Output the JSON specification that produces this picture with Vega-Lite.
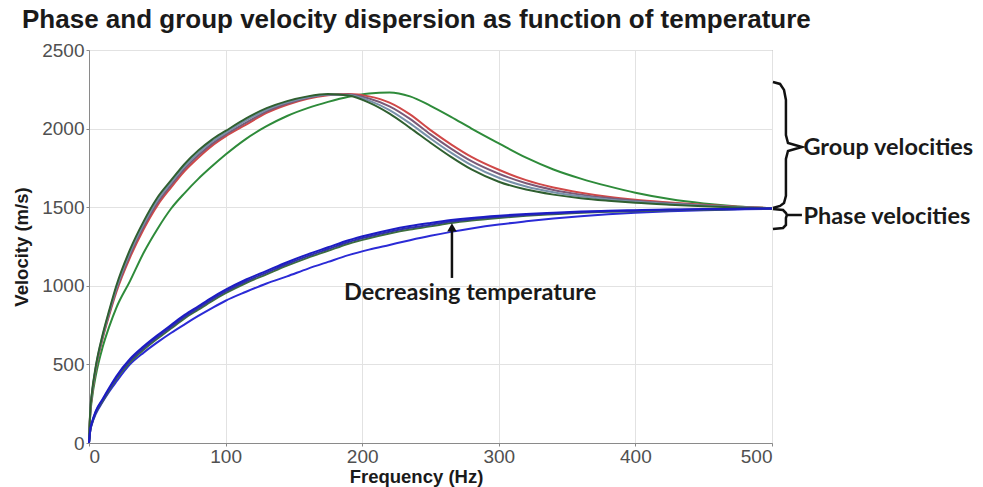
{
  "$schema": "https://vega.github.io/schema/vega-lite/v6.json",
  "width": 683,
  "height": 393,
  "autosize": "none",
  "padding": {"left": 89, "top": 50, "right": 211, "bottom": 44},
  "background": "white",
  "title": {"text": "Phase and group velocity dispersion as function of temperature", "anchor": "start", "frame": "group", "dx": -67, "offset": 8, "fontSize": 26, "font": "Liberation Sans", "fontWeight": "bold", "color": "#1a1a1a"},
  "datasets": {
    "curves": [
      {"c":"O","f":0,"v":0},{"c":"O","f":1,"v":190},{"c":"O","f":2,"v":270},{"c":"O","f":5,"v":430},{"c":"O","f":10,"v":610},{"c":"O","f":15,"v":745},{"c":"O","f":20,"v":860},{"c":"O","f":30,"v":1030},{"c":"O","f":40,"v":1210},{"c":"O","f":50,"v":1360},{"c":"O","f":60,"v":1490},{"c":"O","f":70,"v":1590},{"c":"O","f":80,"v":1680},{"c":"O","f":90,"v":1760},{"c":"O","f":100,"v":1835},{"c":"O","f":115,"v":1935},{"c":"O","f":130,"v":2015},{"c":"O","f":145,"v":2080},{"c":"O","f":160,"v":2130},{"c":"O","f":175,"v":2170},{"c":"O","f":190,"v":2203},{"c":"O","f":205,"v":2224},{"c":"O","f":220,"v":2230},{"c":"O","f":235,"v":2205},{"c":"O","f":250,"v":2145},{"c":"O","f":265,"v":2075},{"c":"O","f":280,"v":2000},{"c":"O","f":300,"v":1906},{"c":"O","f":320,"v":1815},{"c":"O","f":340,"v":1740},{"c":"O","f":360,"v":1682},{"c":"O","f":380,"v":1634},{"c":"O","f":400,"v":1592},{"c":"O","f":425,"v":1552},{"c":"O","f":450,"v":1524},{"c":"O","f":475,"v":1505},{"c":"O","f":500,"v":1494},
      {"c":"R","f":0,"v":0},{"c":"R","f":1,"v":205},{"c":"R","f":2,"v":290},{"c":"R","f":5,"v":470},{"c":"R","f":10,"v":665},{"c":"R","f":15,"v":820},{"c":"R","f":20,"v":960},{"c":"R","f":30,"v":1180},{"c":"R","f":40,"v":1360},{"c":"R","f":50,"v":1510},{"c":"R","f":60,"v":1625},{"c":"R","f":70,"v":1730},{"c":"R","f":80,"v":1815},{"c":"R","f":90,"v":1890},{"c":"R","f":100,"v":1950},{"c":"R","f":115,"v":2025},{"c":"R","f":130,"v":2100},{"c":"R","f":145,"v":2152},{"c":"R","f":160,"v":2190},{"c":"R","f":175,"v":2212},{"c":"R","f":190,"v":2220},{"c":"R","f":205,"v":2205},{"c":"R","f":220,"v":2165},{"c":"R","f":235,"v":2090},{"c":"R","f":250,"v":1990},{"c":"R","f":265,"v":1900},{"c":"R","f":280,"v":1820},{"c":"R","f":300,"v":1738},{"c":"R","f":320,"v":1672},{"c":"R","f":340,"v":1625},{"c":"R","f":360,"v":1592},{"c":"R","f":380,"v":1566},{"c":"R","f":400,"v":1547},{"c":"R","f":425,"v":1530},{"c":"R","f":450,"v":1515},{"c":"R","f":475,"v":1503},{"c":"R","f":500,"v":1494},
      {"c":"G2","f":0,"v":0},{"c":"G2","f":1,"v":210},{"c":"G2","f":2,"v":297},{"c":"G2","f":5,"v":477},{"c":"G2","f":10,"v":673},{"c":"G2","f":15,"v":830},{"c":"G2","f":20,"v":973},{"c":"G2","f":30,"v":1197},{"c":"G2","f":40,"v":1377},{"c":"G2","f":50,"v":1527},{"c":"G2","f":60,"v":1640},{"c":"G2","f":70,"v":1745},{"c":"G2","f":80,"v":1830},{"c":"G2","f":90,"v":1903},{"c":"G2","f":100,"v":1962},{"c":"G2","f":115,"v":2038},{"c":"G2","f":130,"v":2110},{"c":"G2","f":145,"v":2160},{"c":"G2","f":160,"v":2195},{"c":"G2","f":175,"v":2215},{"c":"G2","f":190,"v":2217},{"c":"G2","f":205,"v":2192},{"c":"G2","f":220,"v":2142},{"c":"G2","f":235,"v":2062},{"c":"G2","f":250,"v":1963},{"c":"G2","f":265,"v":1873},{"c":"G2","f":280,"v":1793},{"c":"G2","f":300,"v":1713},{"c":"G2","f":320,"v":1652},{"c":"G2","f":340,"v":1610},{"c":"G2","f":360,"v":1580},{"c":"G2","f":380,"v":1558},{"c":"G2","f":400,"v":1541},{"c":"G2","f":425,"v":1525},{"c":"G2","f":450,"v":1512},{"c":"G2","f":475,"v":1501},{"c":"G2","f":500,"v":1493},
      {"c":"G1","f":0,"v":0},{"c":"G1","f":1,"v":215},{"c":"G1","f":2,"v":303},{"c":"G1","f":5,"v":483},{"c":"G1","f":10,"v":682},{"c":"G1","f":15,"v":840},{"c":"G1","f":20,"v":987},{"c":"G1","f":30,"v":1213},{"c":"G1","f":40,"v":1393},{"c":"G1","f":50,"v":1543},{"c":"G1","f":60,"v":1655},{"c":"G1","f":70,"v":1760},{"c":"G1","f":80,"v":1845},{"c":"G1","f":90,"v":1917},{"c":"G1","f":100,"v":1973},{"c":"G1","f":115,"v":2052},{"c":"G1","f":130,"v":2120},{"c":"G1","f":145,"v":2167},{"c":"G1","f":160,"v":2200},{"c":"G1","f":175,"v":2217},{"c":"G1","f":190,"v":2213},{"c":"G1","f":205,"v":2178},{"c":"G1","f":220,"v":2118},{"c":"G1","f":235,"v":2033},{"c":"G1","f":250,"v":1937},{"c":"G1","f":265,"v":1847},{"c":"G1","f":280,"v":1767},{"c":"G1","f":300,"v":1687},{"c":"G1","f":320,"v":1632},{"c":"G1","f":340,"v":1595},{"c":"G1","f":360,"v":1569},{"c":"G1","f":380,"v":1549},{"c":"G1","f":400,"v":1534},{"c":"G1","f":425,"v":1521},{"c":"G1","f":450,"v":1509},{"c":"G1","f":475,"v":1500},{"c":"G1","f":500,"v":1493},
      {"c":"G0","f":0,"v":0},{"c":"G0","f":1,"v":220},{"c":"G0","f":2,"v":310},{"c":"G0","f":5,"v":490},{"c":"G0","f":10,"v":690},{"c":"G0","f":15,"v":850},{"c":"G0","f":20,"v":1000},{"c":"G0","f":30,"v":1230},{"c":"G0","f":40,"v":1410},{"c":"G0","f":50,"v":1560},{"c":"G0","f":60,"v":1670},{"c":"G0","f":70,"v":1775},{"c":"G0","f":80,"v":1860},{"c":"G0","f":90,"v":1930},{"c":"G0","f":100,"v":1985},{"c":"G0","f":115,"v":2065},{"c":"G0","f":130,"v":2130},{"c":"G0","f":145,"v":2175},{"c":"G0","f":160,"v":2205},{"c":"G0","f":175,"v":2220},{"c":"G0","f":190,"v":2210},{"c":"G0","f":205,"v":2165},{"c":"G0","f":220,"v":2095},{"c":"G0","f":235,"v":2005},{"c":"G0","f":250,"v":1910},{"c":"G0","f":265,"v":1820},{"c":"G0","f":280,"v":1740},{"c":"G0","f":300,"v":1662},{"c":"G0","f":320,"v":1612},{"c":"G0","f":340,"v":1580},{"c":"G0","f":360,"v":1557},{"c":"G0","f":380,"v":1541},{"c":"G0","f":400,"v":1528},{"c":"G0","f":425,"v":1516},{"c":"G0","f":450,"v":1506},{"c":"G0","f":475,"v":1498},{"c":"G0","f":500,"v":1492},
      {"c":"PL","f":0,"v":0},{"c":"PL","f":1,"v":82},{"c":"PL","f":2,"v":116},{"c":"PL","f":5,"v":185},{"c":"PL","f":10,"v":262},{"c":"PL","f":15,"v":330},{"c":"PL","f":20,"v":390},{"c":"PL","f":30,"v":500},{"c":"PL","f":40,"v":575},{"c":"PL","f":50,"v":640},{"c":"PL","f":60,"v":700},{"c":"PL","f":70,"v":755},{"c":"PL","f":80,"v":808},{"c":"PL","f":90,"v":858},{"c":"PL","f":100,"v":905},{"c":"PL","f":115,"v":962},{"c":"PL","f":130,"v":1015},{"c":"PL","f":145,"v":1060},{"c":"PL","f":160,"v":1108},{"c":"PL","f":175,"v":1152},{"c":"PL","f":190,"v":1195},{"c":"PL","f":205,"v":1230},{"c":"PL","f":220,"v":1260},{"c":"PL","f":235,"v":1290},{"c":"PL","f":250,"v":1318},{"c":"PL","f":265,"v":1343},{"c":"PL","f":280,"v":1365},{"c":"PL","f":300,"v":1390},{"c":"PL","f":320,"v":1410},{"c":"PL","f":340,"v":1428},{"c":"PL","f":360,"v":1443},{"c":"PL","f":380,"v":1455},{"c":"PL","f":400,"v":1465},{"c":"PL","f":425,"v":1474},{"c":"PL","f":450,"v":1481},{"c":"PL","f":475,"v":1486},{"c":"PL","f":500,"v":1490},
      {"c":"P2","f":0,"v":0},{"c":"P2","f":1,"v":84},{"c":"P2","f":2,"v":119},{"c":"P2","f":5,"v":195},{"c":"P2","f":10,"v":266},{"c":"P2","f":15,"v":339},{"c":"P2","f":20,"v":407},{"c":"P2","f":30,"v":513},{"c":"P2","f":40,"v":593},{"c":"P2","f":50,"v":663},{"c":"P2","f":60,"v":728},{"c":"P2","f":70,"v":793},{"c":"P2","f":80,"v":848},{"c":"P2","f":90,"v":903},{"c":"P2","f":100,"v":953},{"c":"P2","f":115,"v":1018},{"c":"P2","f":130,"v":1073},{"c":"P2","f":145,"v":1128},{"c":"P2","f":160,"v":1178},{"c":"P2","f":175,"v":1223},{"c":"P2","f":190,"v":1268},{"c":"P2","f":205,"v":1303},{"c":"P2","f":220,"v":1333},{"c":"P2","f":235,"v":1358},{"c":"P2","f":250,"v":1378},{"c":"P2","f":265,"v":1400},{"c":"P2","f":280,"v":1416},{"c":"P2","f":300,"v":1432},{"c":"P2","f":320,"v":1445},{"c":"P2","f":340,"v":1455},{"c":"P2","f":360,"v":1464},{"c":"P2","f":380,"v":1471},{"c":"P2","f":400,"v":1475},{"c":"P2","f":425,"v":1481},{"c":"P2","f":450,"v":1484},{"c":"P2","f":475,"v":1488},{"c":"P2","f":500,"v":1490},
      {"c":"P1","f":0,"v":0},{"c":"P1","f":1,"v":87},{"c":"P1","f":2,"v":123},{"c":"P1","f":5,"v":200},{"c":"P1","f":10,"v":273},{"c":"P1","f":15,"v":347},{"c":"P1","f":20,"v":416},{"c":"P1","f":30,"v":524},{"c":"P1","f":40,"v":604},{"c":"P1","f":50,"v":674},{"c":"P1","f":60,"v":739},{"c":"P1","f":70,"v":804},{"c":"P1","f":80,"v":859},{"c":"P1","f":90,"v":914},{"c":"P1","f":100,"v":964},{"c":"P1","f":115,"v":1029},{"c":"P1","f":130,"v":1084},{"c":"P1","f":145,"v":1139},{"c":"P1","f":160,"v":1189},{"c":"P1","f":175,"v":1234},{"c":"P1","f":190,"v":1279},{"c":"P1","f":205,"v":1314},{"c":"P1","f":220,"v":1344},{"c":"P1","f":235,"v":1369},{"c":"P1","f":250,"v":1389},{"c":"P1","f":265,"v":1409},{"c":"P1","f":280,"v":1424},{"c":"P1","f":300,"v":1439},{"c":"P1","f":320,"v":1451},{"c":"P1","f":340,"v":1460},{"c":"P1","f":360,"v":1468},{"c":"P1","f":380,"v":1474},{"c":"P1","f":400,"v":1478},{"c":"P1","f":425,"v":1483},{"c":"P1","f":450,"v":1486},{"c":"P1","f":475,"v":1489},{"c":"P1","f":500,"v":1491},
      {"c":"P0","f":0,"v":0},{"c":"P0","f":1,"v":90},{"c":"P0","f":2,"v":127},{"c":"P0","f":5,"v":205},{"c":"P0","f":10,"v":280},{"c":"P0","f":15,"v":355},{"c":"P0","f":20,"v":425},{"c":"P0","f":30,"v":535},{"c":"P0","f":40,"v":615},{"c":"P0","f":50,"v":685},{"c":"P0","f":60,"v":750},{"c":"P0","f":70,"v":815},{"c":"P0","f":80,"v":870},{"c":"P0","f":90,"v":925},{"c":"P0","f":100,"v":975},{"c":"P0","f":115,"v":1040},{"c":"P0","f":130,"v":1095},{"c":"P0","f":145,"v":1150},{"c":"P0","f":160,"v":1200},{"c":"P0","f":175,"v":1245},{"c":"P0","f":190,"v":1290},{"c":"P0","f":205,"v":1325},{"c":"P0","f":220,"v":1355},{"c":"P0","f":235,"v":1380},{"c":"P0","f":250,"v":1400},{"c":"P0","f":265,"v":1418},{"c":"P0","f":280,"v":1432},{"c":"P0","f":300,"v":1446},{"c":"P0","f":320,"v":1457},{"c":"P0","f":340,"v":1465},{"c":"P0","f":360,"v":1472},{"c":"P0","f":380,"v":1477},{"c":"P0","f":400,"v":1481},{"c":"P0","f":425,"v":1485},{"c":"P0","f":450,"v":1488},{"c":"P0","f":475,"v":1490},{"c":"P0","f":500,"v":1492}
    ],
    "braces": [
      {"g":"group","o":1,"f":500.7,"v":2296},{"g":"group","o":2,"f":505.9,"v":2284},{"g":"group","o":3,"f":508.8,"v":2246},{"g":"group","o":4,"f":510.2,"v":2182},{"g":"group","o":5,"f":510.2,"v":1959},{"g":"group","o":6,"f":511.7,"v":1908},{"g":"group","o":7,"f":521.9,"v":1883},{"g":"group","o":8,"f":511.7,"v":1858},{"g":"group","o":9,"f":510.2,"v":1807},{"g":"group","o":10,"f":510.2,"v":1572},{"g":"group","o":11,"f":508.8,"v":1527},{"g":"group","o":12,"f":505.9,"v":1508},{"g":"group","o":13,"f":500.7,"v":1495},
      {"g":"phase","o":1,"f":500.7,"v":1489},{"g":"phase","o":2,"f":508.1,"v":1482},{"g":"phase","o":3,"f":510.2,"v":1463},{"g":"phase","o":4,"f":510.9,"v":1450},{"g":"phase","o":5,"f":521.9,"v":1450},{"g":"phase","o":6,"f":510.9,"v":1450},{"g":"phase","o":7,"f":510.2,"v":1431},{"g":"phase","o":8,"f":510.2,"v":1387},{"g":"phase","o":9,"f":508.1,"v":1368},{"g":"phase","o":10,"f":500.7,"v":1361}
    ],
    "side": [
      {"f":523,"v":1877,"t":"Group velocities"},
      {"f":523,"v":1440,"t":"Phase velocities"}
    ],
    "center": [
      {"f":279,"v":954,"t":"Decreasing temperature"}
    ],
    "arrow": [
      {"f":265.7,"v":1050,"v2":1375}
    ],
    "head": [
      {"f":265.7,"v":1372}
    ]
  },
  "layer": [
    {
      "data": {"name": "curves"},
      "mark": {"type": "line", "strokeWidth": 2, "interpolate": "monotone"},
      "encoding": {
        "x": {"field": "f", "type": "quantitative", "title": "Frequency (Hz)",
          "scale": {"domain": [0, 500], "nice": false, "zero": false},
          "axis": {"values": [0, 100, 200, 300, 400, 500], "format": "d", "titleX": 327}},
        "y": {"field": "v", "type": "quantitative", "title": "Velocity (m/s)",
          "scale": {"domain": [0, 2500], "nice": false},
          "axis": {"values": [0, 500, 1000, 1500, 2000, 2500], "format": "d"}},
        "color": {"field": "c", "type": "nominal", "legend": null,
          "scale": {"domain": ["PL", "P2", "P1", "P0", "O", "R", "G2", "G1", "G0"],
                    "range": ["#2b2bd6", "#3d6e3d", "#3030a8", "#1c1cc4", "#2e8b3a", "#d04848", "#7a5a78", "#7890aa", "#2f5f30"]}}
      }
    },
    {
      "data": {"name": "braces"},
      "mark": {"type": "line", "color": "#111", "strokeWidth": 2.5, "clip": false, "interpolate": "linear"},
      "encoding": {
        "x": {"field": "f", "type": "quantitative"},
        "y": {"field": "v", "type": "quantitative"},
        "detail": {"field": "g"},
        "order": {"field": "o", "type": "quantitative"}
      }
    },
    {
      "data": {"name": "arrow"},
      "mark": {"type": "rule", "color": "#111", "strokeWidth": 2.5},
      "encoding": {
        "x": {"field": "f", "type": "quantitative"},
        "y": {"field": "v", "type": "quantitative"},
        "y2": {"field": "v2"}
      }
    },
    {
      "data": {"name": "head"},
      "mark": {"type": "point", "shape": "triangle-up", "filled": true, "color": "#111", "size": 90, "opacity": 1},
      "encoding": {
        "x": {"field": "f", "type": "quantitative"},
        "y": {"field": "v", "type": "quantitative"}
      }
    },
    {
      "data": {"name": "side"},
      "mark": {"type": "text", "align": "left", "baseline": "middle", "font": "Lato", "fontWeight": "bold", "fontSize": 23.5, "color": "#1a1a1a", "clip": false},
      "encoding": {
        "x": {"field": "f", "type": "quantitative"},
        "y": {"field": "v", "type": "quantitative"},
        "text": {"field": "t"}
      }
    },
    {
      "data": {"name": "center"},
      "mark": {"type": "text", "align": "center", "baseline": "middle", "font": "Lato", "fontWeight": "bold", "fontSize": 23.5, "color": "#1a1a1a"},
      "encoding": {
        "x": {"field": "f", "type": "quantitative"},
        "y": {"field": "v", "type": "quantitative"},
        "text": {"field": "t"}
      }
    }
  ],
  "config": {
    "view": {"stroke": "#8a8a8a", "strokeWidth": 1},
    "axis": {
      "grid": true, "gridColor": "#e2e2e2", "gridWidth": 1,
      "domain": true, "domainColor": "#8a8a8a",
      "ticks": true, "tickColor": "#8a8a8a", "tickSize": 3,
      "labelFont": "Liberation Sans", "labelFontSize": 19, "labelColor": "#505050",
      "titleFont": "Liberation Sans", "titleFontSize": 18.5, "titleFontWeight": "bold", "titleColor": "#1a1a1a"
    },
    "axisX": {"labelPadding": 1, "titlePadding": 1},
    "axisY": {"labelPadding": 2, "titlePadding": 10}
  }
}
